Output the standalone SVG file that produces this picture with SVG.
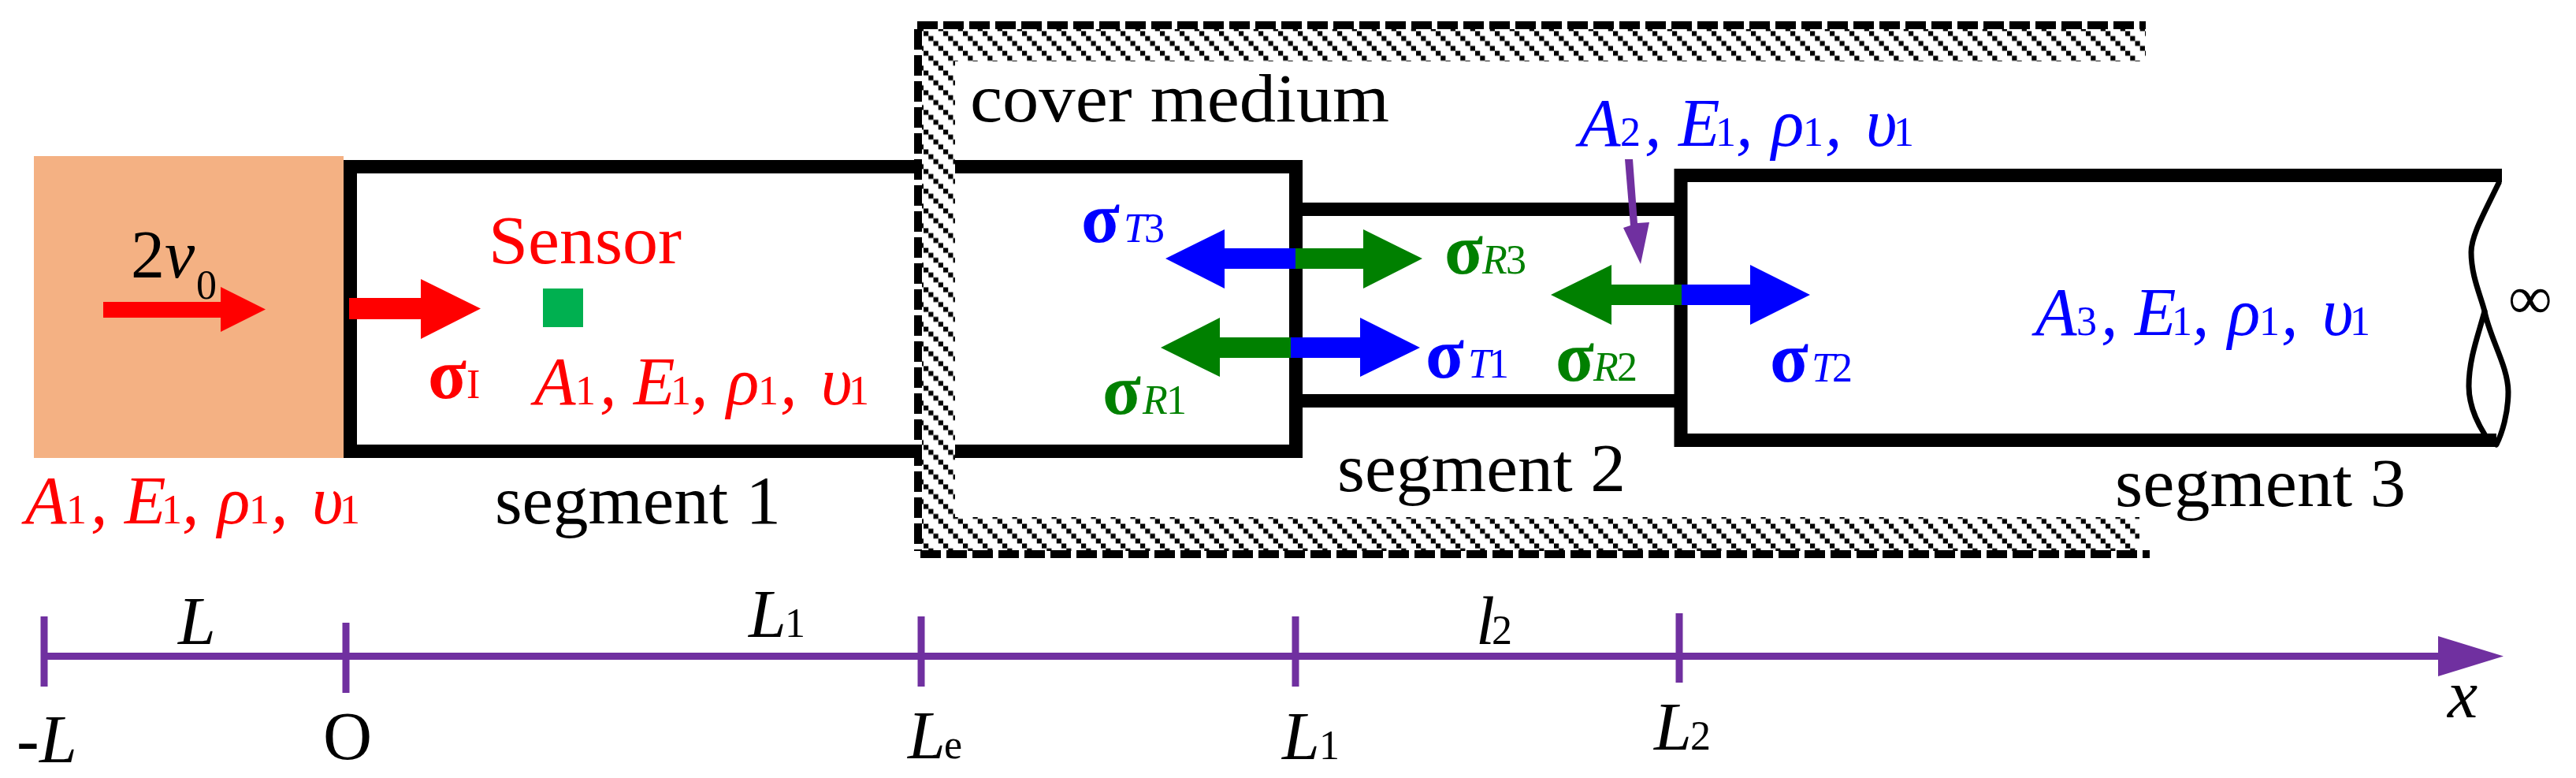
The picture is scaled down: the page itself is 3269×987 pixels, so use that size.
<svg xmlns="http://www.w3.org/2000/svg" width="3269" height="987" viewBox="0 0 3269 987">
<style>
text{font-family:"Liberation Serif","DejaVu Serif",serif;font-size:86px;fill:#000}
.i{font-style:italic}
.s{font-size:52px;font-style:normal}
.si{font-size:52px;font-style:italic}
.b{font-weight:bold;font-size:90px}
.red text,.red{fill:#f00}
.blue text,.blue{fill:#00f}
.green text,.green{fill:#008000}
.purple{fill:#7030a0}
.wall{fill:none;stroke:#000;stroke-width:17}
.dash{fill:none;stroke:#000;stroke-width:10;stroke-dasharray:26 7}
.wave{fill:none;stroke:#000;stroke-width:7;stroke-linecap:round}
.tick{stroke:#7030a0;stroke-width:9;fill:none}
</style>
<defs>
<pattern id="hatch" patternUnits="userSpaceOnUse" x="1172" y="39.5" width="25" height="25">
<rect width="25" height="25" fill="#fff"/>
<rect x="0" y="0" width="6.2" height="6.2"/>
<rect x="6.25" y="6.25" width="6.2" height="6.2"/>
<rect x="12.5" y="12.5" width="6.2" height="6.2"/>
<rect x="18.75" y="18.75" width="6.2" height="6.2"/>
</pattern>
</defs>
<rect width="3269" height="987" fill="#fff"/>

<g id="impactor">
<rect x="43" y="198" width="393" height="383" fill="#f4b183"/>
<text x="166" y="352">2</text>
<text class="i" x="209" y="352">v</text>
<text class="s" x="249" y="379">0</text>
</g>

<g id="segment-1">
<path class="wall" d="M444.5 211.5H1644.5V572.5H444.5Z"/>
<text x="628" y="664" textLength="363" lengthAdjust="spacingAndGlyphs">segment 1</text>
</g>
<g id="segment-2">
<path class="wall" d="M1644 265.5H2134M1644 508.5H2134"/>
<text x="1697" y="623" textLength="366" lengthAdjust="spacingAndGlyphs">segment 2</text>
</g>
<g id="segment-3">
<path class="wall" d="M3175 222.5H2133V558.5H3168"/>
<path class="wave" d="M3171 232C3150 275 3136 300 3136 320C3136 350 3148 375 3153 395C3160 430 3183 465 3183 497C3183 525 3175 550 3168 564"/>
<path class="wave" d="M3153 395C3145 425 3133 455 3133 490C3133 515 3143 535 3153 551"/>
<text x="2684" y="642" textLength="369" lengthAdjust="spacingAndGlyphs">segment 3</text>
<text x="3183" y="404" style="font-size:78px">∞</text>
</g>

<g id="cover-medium">
<path fill="url(#hatch)" d="M1170 37H2723V78H1212V656H2715V699H1170Z"/>
<path class="dash" d="M1164 32H2723"/>
<path class="dash" d="M1165 37V699"/>
<path class="dash" d="M1168 703H2728"/>
<text x="1231" y="154" textLength="532" lengthAdjust="spacingAndGlyphs">cover medium</text>
</g>

<g id="sensor" class="red">
<rect x="689" y="366" width="51" height="49" fill="#00b050"/>
<text x="620" y="334" textLength="245" lengthAdjust="spacingAndGlyphs">Sensor</text>
</g>

<g id="props-impactor" class="red" transform="translate(28,664)">
<text><tspan class="i" x="4">A</tspan><tspan class="s" x="56">1</tspan><tspan class="i" x="87">,</tspan><tspan class="i" x="130">E</tspan><tspan class="s" x="177">1</tspan><tspan class="i" x="203">,</tspan><tspan class="i" x="248">ρ</tspan><tspan class="s" x="288">1</tspan><tspan class="i" x="316">,</tspan><tspan class="i" x="368">υ</tspan><tspan class="s" x="403">1</tspan></text>
</g>
<g id="props-segment-1" class="red" transform="translate(674,513)">
<text><tspan class="i" x="4">A</tspan><tspan class="s" x="56">1</tspan><tspan class="i" x="87">,</tspan><tspan class="i" x="130">E</tspan><tspan class="s" x="177">1</tspan><tspan class="i" x="203">,</tspan><tspan class="i" x="248">ρ</tspan><tspan class="s" x="288">1</tspan><tspan class="i" x="316">,</tspan><tspan class="i" x="368">υ</tspan><tspan class="s" x="403">1</tspan></text>
</g>
<g id="props-segment-2" class="blue" transform="translate(2000,185)">
<text><tspan class="i" x="4">A</tspan><tspan class="s" x="56">2</tspan><tspan class="i" x="87">,</tspan><tspan class="i" x="130">E</tspan><tspan class="s" x="177">1</tspan><tspan class="i" x="203">,</tspan><tspan class="i" x="248">ρ</tspan><tspan class="s" x="288">1</tspan><tspan class="i" x="316">,</tspan><tspan class="i" x="368">υ</tspan><tspan class="s" x="403">1</tspan></text>
</g>
<g id="props-segment-3" class="blue" transform="translate(2579,425)">
<text><tspan class="i" x="4">A</tspan><tspan class="s" x="56">3</tspan><tspan class="i" x="87">,</tspan><tspan class="i" x="130">E</tspan><tspan class="s" x="177">1</tspan><tspan class="i" x="203">,</tspan><tspan class="i" x="248">ρ</tspan><tspan class="s" x="288">1</tspan><tspan class="i" x="316">,</tspan><tspan class="i" x="368">υ</tspan><tspan class="s" x="403">1</tspan></text>
</g>

<g id="connectors">
<polygon class="red" points="131,383 280,383 280,364 337,392.5 280,421 280,403 131,403"/>
<polygon class="red" points="443,378 534,378 534,354 610,391.5 534,430 534,405 443,405"/>
<polygon class="blue" points="1644,315 1554,315 1554,291 1479,328 1554,366 1554,341 1644,341"/>
<polygon class="green" points="1644,315 1730,315 1730,291 1805,328 1730,366 1730,341 1644,341"/>
<polygon class="green" points="1638,428 1548,428 1548,403 1473,441 1548,478 1548,454 1638,454"/>
<polygon class="blue" points="1638,428 1726,428 1726,403 1802,441 1726,478 1726,454 1638,454"/>
<polygon class="green" points="2134,361 2045,361 2045,336 1968,374 2045,412 2045,387 2134,387"/>
<polygon class="blue" points="2134,361 2221,361 2221,336 2297,374 2221,412 2221,387 2134,387"/>
<polygon class="purple" points="2062,202 2072,202 2078,283 2093,282 2082,335 2060,289 2069,286"/>
<g id="axis">
<rect class="purple" x="55" y="828" width="3040" height="9"/>
<polygon class="purple" points="3094,807 3177,832.5 3094,858"/>
<path class="tick" d="M56 782V871M439 790V879M1169 782V871M1644 782V871M2131 778V866"/>
</g>
</g>

<g id="stress-labels">
<text class="red" y="505"><tspan class="b" x="543">σ</tspan><tspan class="s" x="592">I</tspan></text>
<text class="blue" y="307"><tspan class="b" x="1372">σ</tspan><tspan class="si" x="1426">T</tspan><tspan class="s" x="1452">3</tspan></text>
<text class="green" y="347"><tspan class="b" x="1833">σ</tspan><tspan class="si" x="1881">R</tspan><tspan class="s" x="1911">3</tspan></text>
<text class="blue" y="479"><tspan class="b" x="1809">σ</tspan><tspan class="si" x="1863">T</tspan><tspan class="s" x="1889">1</tspan></text>
<text class="green" y="525"><tspan class="b" x="1399">σ</tspan><tspan class="si" x="1450">R</tspan><tspan class="s" x="1480">1</tspan></text>
<text class="green" y="483"><tspan class="b" x="1974">σ</tspan><tspan class="si" x="2022">R</tspan><tspan class="s" x="2052">2</tspan></text>
<text class="blue" y="484"><tspan class="b" x="2246">σ</tspan><tspan class="si" x="2299">T</tspan><tspan class="s" x="2325">2</tspan></text>
</g>

<g id="axis-labels">
<text class="i" x="226" y="817">L</text>
<text y="808"><tspan class="i" x="950">L</tspan><tspan class="s" x="996">1</tspan></text>
<text y="817"><tspan class="i" x="1873">l</tspan><tspan class="s" x="1893">2</tspan></text>
<text y="967"><tspan class="i" x="21">-</tspan><tspan class="i" x="50">L</tspan></text>
<text x="410" y="963">O</text>
<text y="962"><tspan class="i" x="1152">L</tspan><tspan class="s" x="1198">e</tspan></text>
<text y="963"><tspan class="i" x="1627">L</tspan><tspan class="s" x="1674">1</tspan></text>
<text y="951"><tspan class="i" x="2099">L</tspan><tspan class="s" x="2145">2</tspan></text>
<text class="i" x="3106" y="910">x</text>
</g>
</svg>
